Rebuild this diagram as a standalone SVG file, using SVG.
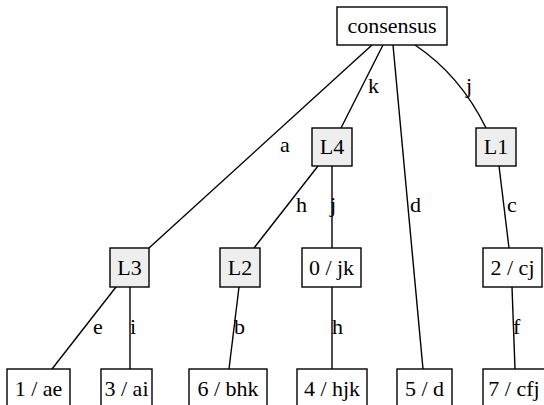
<svg xmlns="http://www.w3.org/2000/svg" width="544" height="405" viewBox="0 0 544 405" font-family="'Liberation Serif', 'DejaVu Serif', 'Times New Roman', Times, serif">
<style>
  .box { fill: #ffffff; stroke: #000000; stroke-width: 1.4; }
  .gray { fill: #eeeeee; }
  text { font-family: "Liberation Serif", "DejaVu Serif", "Times New Roman", Times, serif; font-size: 22px; fill: #000000; }
  .c { text-anchor: middle; }
  .edge { fill: none; stroke: #000000; stroke-width: 1.4; }
</style>
<rect width="544" height="405" fill="#ffffff"/>
<g id="connectors">
  <path class="edge" d="M372,45 L149,248"/>
  <path class="edge" d="M383,45 L341,128"/>
  <path class="edge" d="M393,45 L423,369"/>
  <path class="edge" d="M415,45 Q460,75 486,128"/>
  <path class="edge" d="M318,166 L254,248"/>
  <path class="edge" d="M332,166 L332,248"/>
  <path class="edge" d="M499,166 L509,248"/>
  <path class="edge" d="M116,287 L52,369"/>
  <path class="edge" d="M130,287 L130,369"/>
  <path class="edge" d="M239,287 L229,369"/>
  <path class="edge" d="M332,287 L332,369"/>
  <path class="edge" d="M512,287 L515,369"/>
  <text x="280" y="152">a</text>
  <text x="368" y="93">k</text>
  <text x="466" y="93">j</text>
  <text x="410" y="212">d</text>
  <text x="296" y="212">h</text>
  <text x="330" y="212">j</text>
  <text x="507" y="212">c</text>
  <text x="93" y="334">e</text>
  <text x="130" y="334">i</text>
  <text x="234" y="334">b</text>
  <text x="332" y="334">h</text>
  <text x="513" y="334">f</text>
</g>
<g id="consensus"><rect class="box" x="337" y="7" width="110" height="38"/><text class="c" x="392" y="33">consensus</text></g>
<g id="L4"><rect class="box gray" x="312" y="128" width="40" height="38"/><text class="c" x="332" y="154">L4</text></g>
<g id="L1"><rect class="box gray" x="476" y="128" width="40" height="38"/><text class="c" x="496" y="154">L1</text></g>
<g id="L3"><rect class="box gray" x="110" y="248" width="39" height="39"/><text class="c" x="129.5" y="275">L3</text></g>
<g id="L2"><rect class="box gray" x="220" y="248" width="40" height="39"/><text class="c" x="240" y="275">L2</text></g>
<g id="n0"><rect class="box" x="302" y="248" width="59" height="39"/><text class="c" x="331.5" y="275">0 / jk</text></g>
<g id="n2"><rect class="box" x="483" y="248" width="59" height="39"/><text class="c" x="512.5" y="275">2 / cj</text></g>
<g id="n1"><rect class="box" x="7" y="369" width="63" height="38"/><text class="c" x="38.5" y="396">1 / ae</text></g>
<g id="n3"><rect class="box" x="101" y="369" width="51" height="38"/><text class="c" x="126.5" y="396">3 / ai</text></g>
<g id="n6"><rect class="box" x="189" y="369" width="78" height="38"/><text class="c" x="228" y="396">6 / bhk</text></g>
<g id="n4"><rect class="box" x="297" y="369" width="70" height="38"/><text class="c" x="332" y="396">4 / hjk</text></g>
<g id="n5"><rect class="box" x="397" y="369" width="55" height="38"/><text class="c" x="424.5" y="396">5 / d</text></g>
<g id="n7"><rect class="box" x="483" y="369" width="62" height="38"/><text class="c" x="514" y="396">7 / cfj</text></g>
</svg>
